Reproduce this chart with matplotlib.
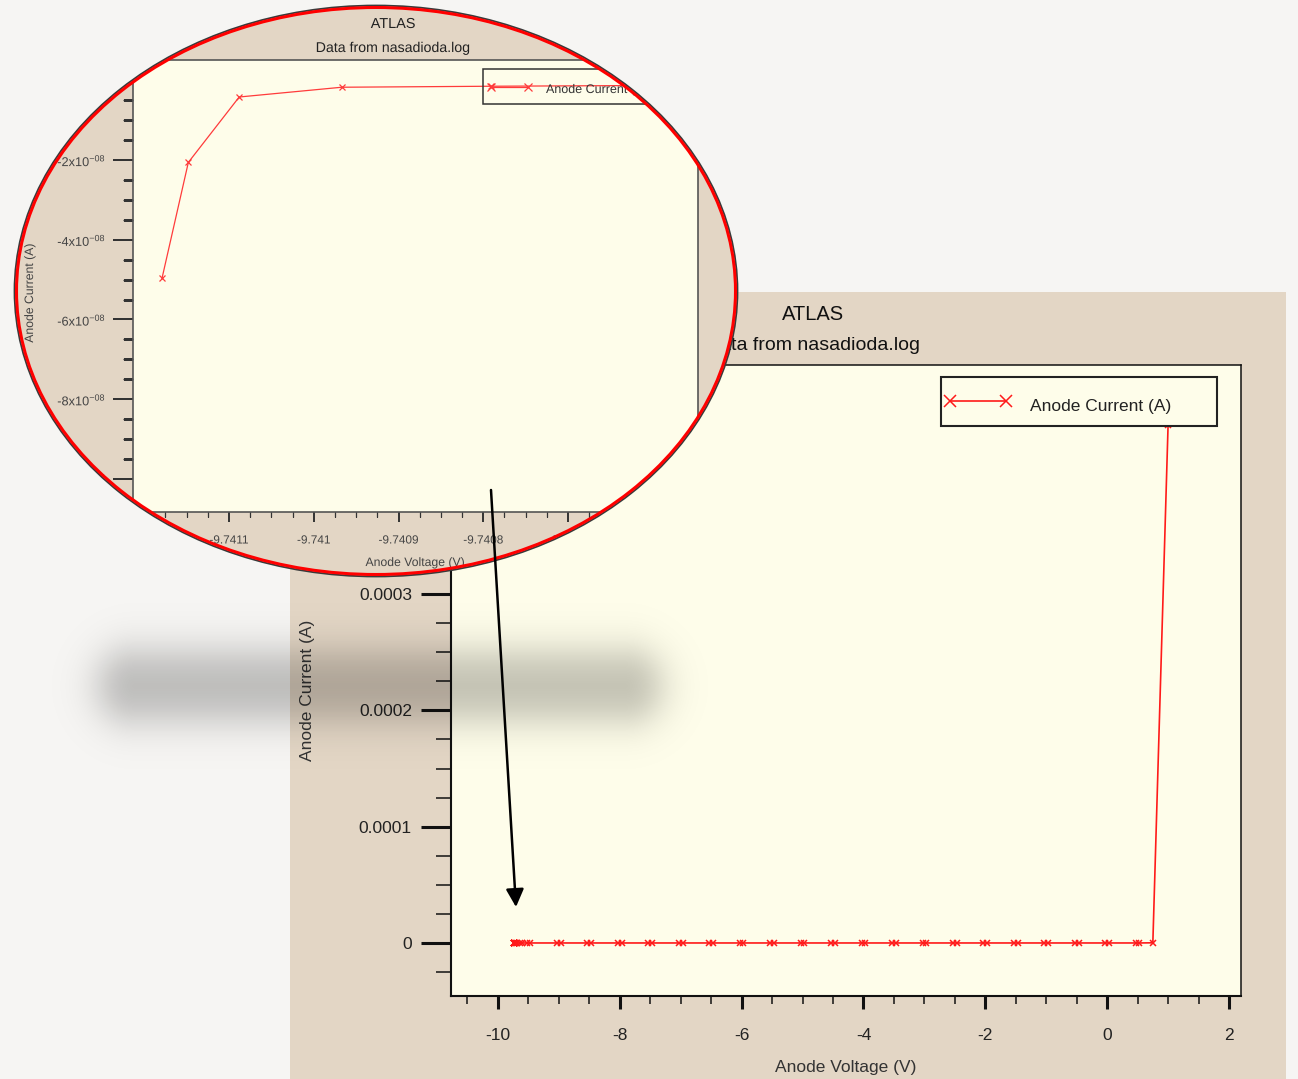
import numpy as np
import matplotlib
matplotlib.use("Agg")
import matplotlib.pyplot as plt
import matplotlib.patheffects as pe
from matplotlib.patches import Rectangle, Ellipse, FancyArrowPatch, ArrowStyle
from matplotlib.lines import Line2D
from matplotlib.text import Text
from matplotlib.transforms import Affine2D
from matplotlib.ticker import MultipleLocator, FuncFormatter

W, H = 1298, 1079

plt.rcParams['font.family'] = ['Liberation Sans', 'DejaVu Sans']
plt.rcParams['mathtext.default'] = 'regular'
plt.rcParams['axes.unicode_minus'] = False

PAGE = '#F6F5F3'
TAN = '#E3D6C5'
IVORY = '#FEFDEA'
RED = '#FF1A1A'

# --- sweep data from nasadioda.log: anode voltage (V) / anode current (A) ---
anode_voltage = [-9.741179, -9.741148, -9.741088, -9.740967, -9.740791, -9.7404,
                 -9.7398, -9.7385, -9.736, -9.731, -9.722, -9.705, -9.68, -9.645,
                 -9.60, -9.53, -9.47,
                 -9.03, -8.97, -8.53, -8.47, -8.03, -7.97, -7.53, -7.47,
                 -7.03, -6.97, -6.53, -6.47, -6.03, -5.97, -5.53, -5.47,
                 -5.03, -4.97, -4.53, -4.47, -4.03, -3.97, -3.53, -3.47,
                 -3.03, -2.97, -2.53, -2.47, -2.03, -1.97, -1.53, -1.47,
                 -1.03, -0.97, -0.53, -0.47, -0.03, 0.03, 0.47, 0.53,
                 0.75, 1.0]
anode_current = [-4.96e-8, -2.06e-8, -4.2e-9, -1.75e-9, -1.5e-9, -1.1e-9,
                 -1.0e-9, -9.8e-10, -9.6e-10, -9.4e-10, -9.2e-10, -9.0e-10, -8.8e-10, -8.6e-10,
                 -8.4e-10, -8.2e-10, -8.1e-10,
                 -7.6e-10, -7.5e-10, -7.2e-10, -7.1e-10, -6.8e-10, -6.7e-10, -6.4e-10, -6.3e-10,
                 -6.0e-10, -5.9e-10, -5.6e-10, -5.5e-10, -5.2e-10, -5.1e-10, -4.8e-10, -4.7e-10,
                 -4.4e-10, -4.3e-10, -4.0e-10, -3.9e-10, -3.6e-10, -3.5e-10, -3.2e-10, -3.1e-10,
                 -2.8e-10, -2.7e-10, -2.4e-10, -2.3e-10, -2.0e-10, -1.9e-10, -1.5e-10, -1.4e-10,
                 -1.0e-10, -9.0e-11, -5.0e-11, -4.0e-11, -1.0e-12, 1.0e-11, 2.0e-9, 4.0e-9,
                 1.5e-7, 4.45e-4]

series_label = 'Anode Current (A)'
x_label = 'Anode Voltage (V)'
title = 'ATLAS'
subtitle = 'Data from nasadioda.log'

# pixel transform (origin top-left) for the page decoration
PX = Affine2D().scale(1, -1).translate(0, H)


def box(x0, y0, x1, y1):
    return [x0 / W, 1 - y1 / H, (x1 - x0) / W, (y1 - y0) / H]


fig = plt.figure(figsize=(W / 100, H / 100), dpi=100)
fig.patch.set_facecolor(PAGE)

# tan panel behind the main chart
fig.add_artist(Rectangle((290, 292), 996, 787, transform=PX, facecolor=TAN,
                         edgecolor='none', zorder=0))

# ---------------- main chart ----------------
ax = fig.add_axes(box(451, 365, 1241, 996), zorder=1)
ax.set_facecolor(IVORY)
ax.plot(anode_voltage, anode_current, color=RED, lw=1.2, marker='x', ms=5, mew=1.1, zorder=2)
ax.set_xlim(-10.77, 2.197)
ax.set_ylim(-4.56e-5, 4.97e-4)
ax.xaxis.set_major_locator(MultipleLocator(2))
ax.xaxis.set_minor_locator(MultipleLocator(0.5))
ax.yaxis.set_major_locator(MultipleLocator(1e-4))
ax.yaxis.set_minor_locator(MultipleLocator(2.5e-5))
plain = FuncFormatter(lambda v, p: '0' if abs(v) < 1e-12 else f'{v:.6g}')
ax.xaxis.set_major_formatter(plain)
ax.yaxis.set_major_formatter(plain)
ax.tick_params(which='both', direction='out', color='#111111', labelcolor='#222222',
               labelsize=12.5)
ax.tick_params(axis='y', which='major', length=21.6, width=2.2, pad=6.5)
ax.tick_params(axis='y', which='minor', length=10.8, width=1.1)
ax.tick_params(axis='x', which='major', length=9.4, width=2.2, pad=14)
ax.tick_params(axis='x', which='minor', length=5.8, width=1.1)
for side, sp in ax.spines.items():
    sp.set_color('#111111')
    sp.set_linewidth(1.5 if side in ('left', 'bottom') else 1.1)
ax.set_ylabel(series_label, fontsize=12.5, color='#333333')
ax.yaxis.set_label_coords(-0.172, 0.485)
ax.set_xlabel(x_label, fontsize=12.5, color='#333333')
ax.xaxis.set_label_coords(0.5, -0.1014)

# legend box
ax.add_patch(Rectangle((941, 377), 276, 49, transform=PX, facecolor=IVORY,
                       edgecolor='#222222', lw=1.5, zorder=4))
ax.add_line(Line2D([950, 1006], [401, 401], transform=PX, color=RED, lw=1.2,
                   marker='x', ms=8, mew=1.1, zorder=5))
ax.text(1030, 406, series_label, transform=PX, ha='left', va='center',
        fontsize=12.5, color='#222222', zorder=5)

fig.text(813, 314, title, transform=PX, ha='center', va='center', fontsize=14.5,
         color='#111111', zorder=1.5)
fig.text(813, 346, subtitle, transform=PX, ha='center', va='center', fontsize=14,
         color='#111111', zorder=1.5)

# soft drop shadow under the magnifier (blurred capsule)
sx0, sy0, sw, sh = 20, 570, 760, 240
xx, yy = np.meshgrid(np.arange(sw) + sx0 + 0.5, np.arange(sh) + sy0 + 0.5)
dist = np.hypot(xx - np.clip(xx, 135, 625), yy - 686) - 34
alpha = 0.24 * 0.5 * (1 + np.tanh(-dist / 24))
shadow = np.zeros((sh, sw, 4))
shadow[..., 3] = alpha
fig.figimage(shadow, xo=sx0, yo=H - sy0 - sh, origin='upper', zorder=3)

# ---------------- magnified view ----------------
lens = Ellipse((376, 291), 720, 568, transform=PX, facecolor=TAN, edgecolor='none', zorder=4)
fig.add_artist(lens)

ax_in = fig.add_axes(box(133, 60, 697.5, 512), zorder=5)
ax_in.set_facecolor(IVORY)
ax_in.plot(anode_voltage, anode_current, color='#FF3B3B', lw=0.9, marker='x', ms=5, mew=0.9)
ax_in.set_xlim(-9.7412133, -9.7405472)
ax_in.set_ylim(-1.0828e-7, 5.08e-9)
ax_in.xaxis.set_major_locator(MultipleLocator(1e-4))
ax_in.xaxis.set_minor_locator(MultipleLocator(2.5e-5))
ax_in.yaxis.set_major_locator(MultipleLocator(2e-8))
ax_in.yaxis.set_minor_locator(MultipleLocator(5e-9))
ax_in.xaxis.set_major_formatter(FuncFormatter(lambda v, p: f'{v:.5f}'.rstrip('0')))


def sci(v, p):
    if abs(v) < 1e-15:
        return '0'
    e = int(np.floor(np.log10(abs(v)) + 1e-9))
    m = v / 10 ** e
    return f'{m:.0f}x10$^{{{e:03d}}}$'


ax_in.yaxis.set_major_formatter(FuncFormatter(sci))
ax_in.tick_params(which='both', direction='out', color='#333333', labelcolor='#444444',
                  labelsize=8.5)
ax_in.tick_params(axis='y', which='major', length=14.4, width=1.4, pad=5, labelsize=9.2)
ax_in.tick_params(axis='y', which='minor', length=7.2, width=0.9)
ax_in.tick_params(axis='x', which='major', length=7.2, width=1.4, pad=9)
ax_in.tick_params(axis='x', which='minor', length=3.6, width=0.9)
for sp in ax_in.spines.values():
    sp.set_color('#555555')
    sp.set_linewidth(1.2)
ax_in.set_ylabel(series_label, fontsize=8.8, color='#444444')
ax_in.yaxis.set_label_coords(-0.1718, 0.4845)
ax_in.set_xlabel(x_label, fontsize=8.8, color='#444444')
ax_in.xaxis.set_label_coords(0.5, -0.0996)

ax_in.add_patch(Rectangle((483, 69), 200, 35, transform=PX, facecolor='none',
                          edgecolor='#333333', lw=1.1, zorder=4))
ax_in.add_line(Line2D([491, 528], [87, 87], transform=PX, color='#FF3B3B', lw=0.9,
                      marker='x', ms=6, mew=0.9, zorder=5))
ax_in.text(546, 90, series_label, transform=PX, ha='left', va='center',
           fontsize=9, color='#333333', zorder=5)
ax_in.text(393, 24, title, transform=PX, ha='center', va='center', fontsize=10.4,
           color='#222222')
ax_in.text(393, 48, subtitle, transform=PX, ha='center', va='center', fontsize=10.2,
           color='#222222')

# clip every piece of the magnified view to the lens
clipped = [ax_in.patch, *ax_in.spines.values(), *ax_in.lines, *ax_in.patches, *ax_in.texts]
for axis in (ax_in.xaxis, ax_in.yaxis):
    for t in axis.get_major_ticks() + axis.get_minor_ticks():
        clipped += [t.tick1line, t.tick2line, t.label1, t.label2]
    clipped.append(axis.label)
for a in clipped:
    a.set_clip_path(lens)
    if isinstance(a, Text):
        a.set_clip_box(None)
        a.set_clip_on(True)
        a.set_path_effects([pe.Normal()])

# lens rim and pointer arrow
fig.add_artist(Ellipse((376, 291), 723, 571, transform=PX, fill=False,
                       edgecolor='#3A3A3A', lw=1.3, zorder=6))
fig.add_artist(Ellipse((376, 291), 719, 567, transform=PX, fill=False,
                       edgecolor='#FF0000', lw=2.2, zorder=6.1))
fig.add_artist(FancyArrowPatch((491, 490), (516, 907), transform=PX,
                               arrowstyle=ArrowStyle('-|>', head_length=10.8, head_width=5.4),
                               mutation_scale=1, lw=1.8, color='black',
                               shrinkA=0, shrinkB=0, zorder=7))

fig.savefig('out.png', dpi=100, facecolor=fig.get_facecolor())
